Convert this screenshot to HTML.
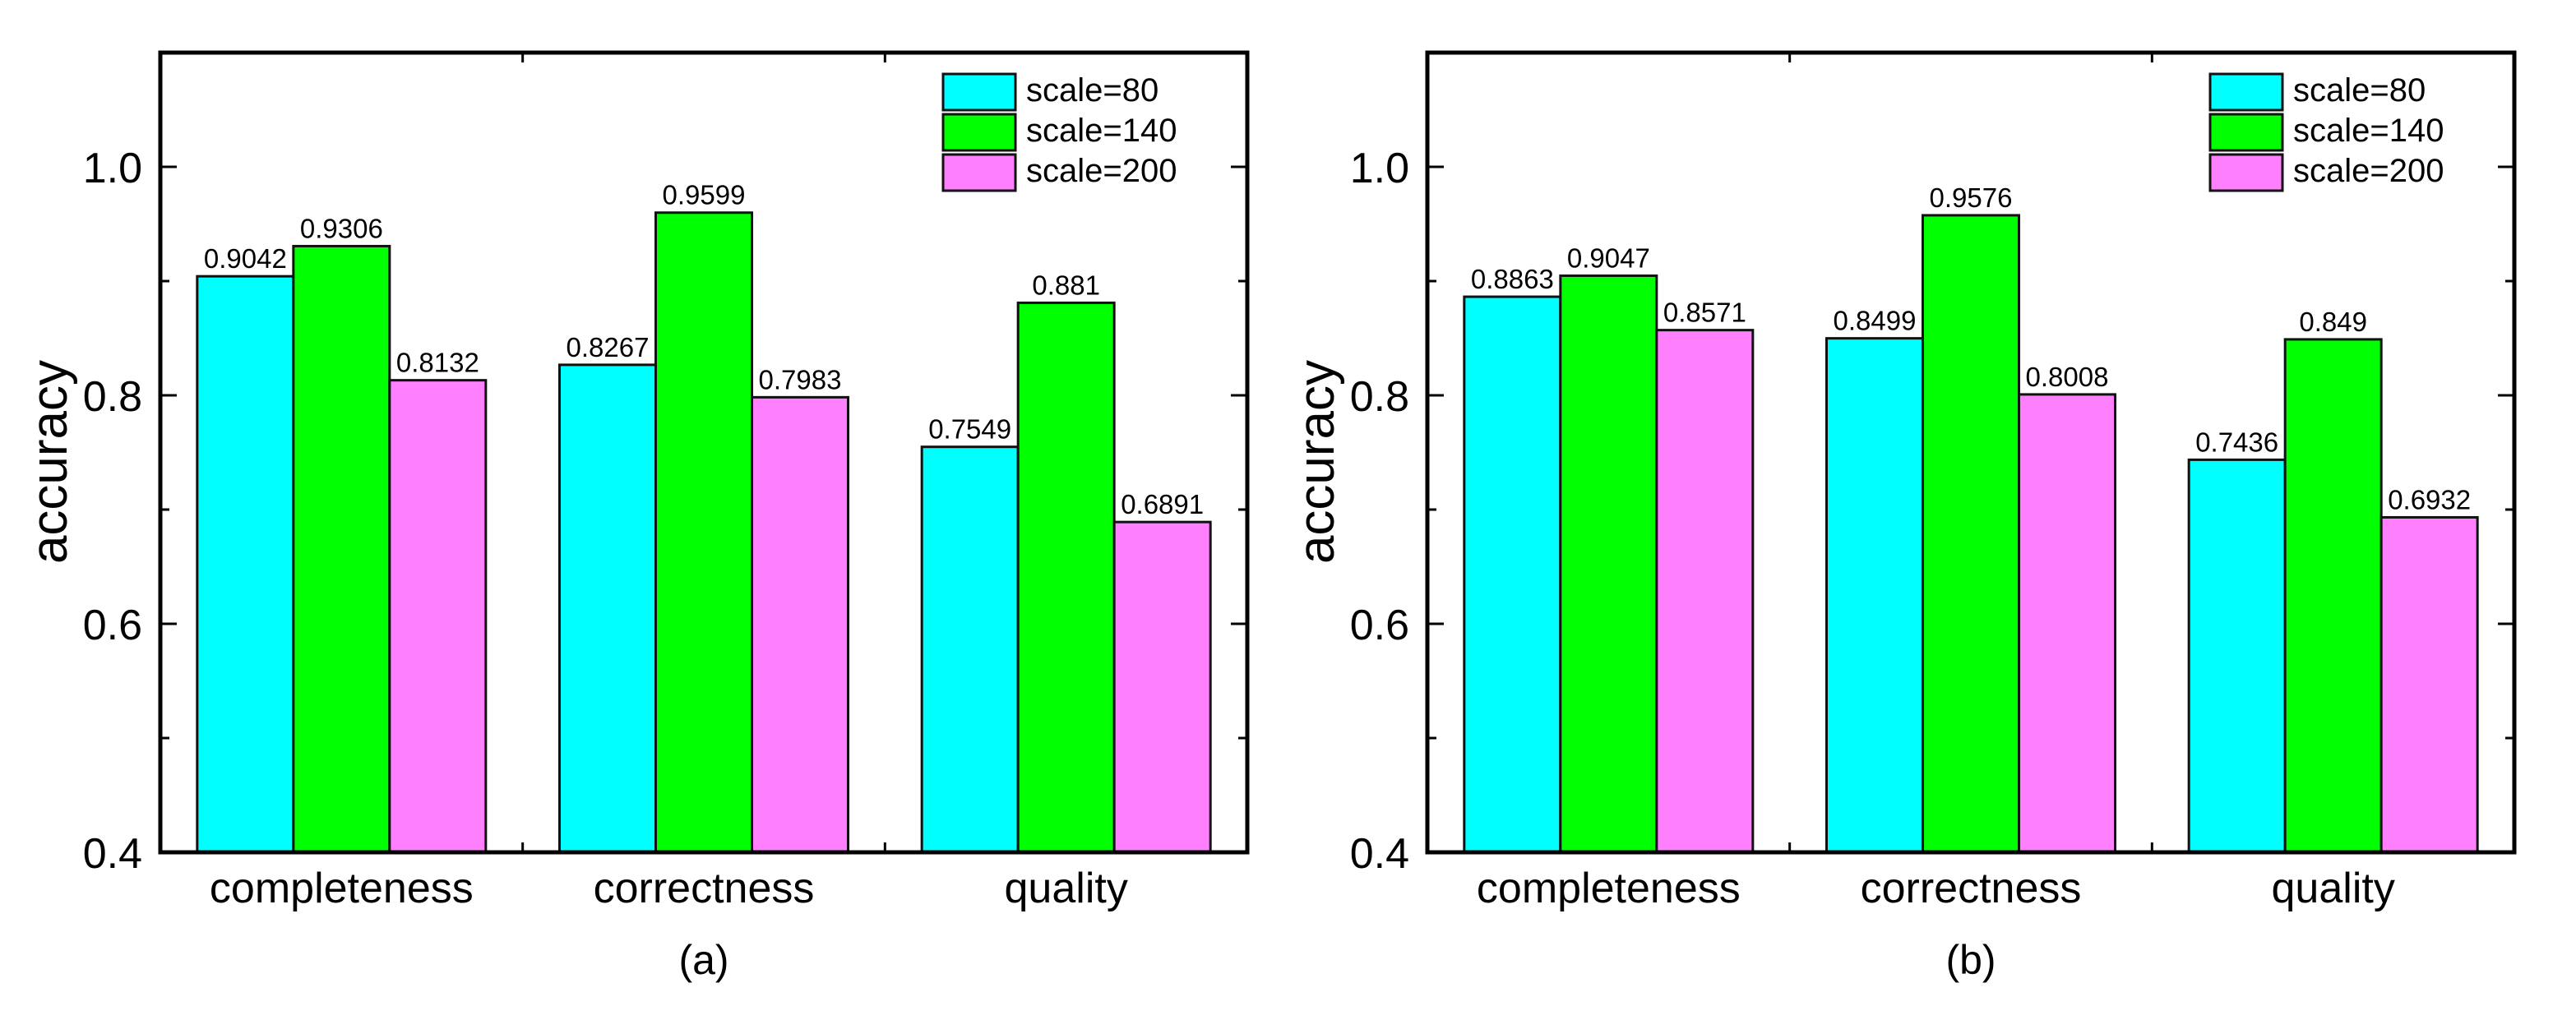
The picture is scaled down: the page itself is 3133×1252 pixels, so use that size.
<!DOCTYPE html>
<html><head><meta charset="utf-8"><style>
html,body{margin:0;padding:0;background:#fff;}
svg{display:block;font-family:"Liberation Sans",Arial,sans-serif;}
</style></head><body>
<svg id="chart" width="3133" height="1252" viewBox="0 0 3133 1252" xmlns="http://www.w3.org/2000/svg">
<rect x="0" y="0" width="3133" height="1252" fill="#fff"/>
</svg>
<script>
const categories = ["completeness", "correctness", "quality"];
const seriesNames = ["scale=80", "scale=140", "scale=200"];
const seriesColors = ["#00ffff", "#00ff00", "#ff80ff"];
const panelAValues80 = [0.9042, 0.8267, 0.7549];
const panelAValues140 = [0.9306, 0.9599, 0.881];
const panelAValues200 = [0.8132, 0.7983, 0.6891];
const panelBValues80 = [0.8863, 0.8499, 0.7436];
const panelBValues140 = [0.9047, 0.9576, 0.849];
const panelBValues200 = [0.8571, 0.8008, 0.6932];
const panelALabels80 = ["0.9042", "0.8267", "0.7549"];
const panelALabels140 = ["0.9306", "0.9599", "0.881"];
const panelALabels200 = ["0.8132", "0.7983", "0.6891"];
const panelBLabels80 = ["0.8863", "0.8499", "0.7436"];
const panelBLabels140 = ["0.9047", "0.9576", "0.849"];
const panelBLabels200 = ["0.8571", "0.8008", "0.6932"];
const yTicks = [0.4, 0.6, 0.8, 1.0];
const yTickLabels = ["0.4", "0.6", "0.8", "1.0"];
const yMinorTicks = [0.5, 0.7, 0.9];
const yMin = 0.4, yMax = 1.1;

const NS = "http://www.w3.org/2000/svg";
const svg = document.getElementById("chart");
function mk(tag, attrs, parent, text) {
  const e = document.createElementNS(NS, tag);
  for (const k in attrs) e.setAttribute(k, attrs[k]);
  if (text !== undefined) e.textContent = text;
  (parent || svg).appendChild(e);
  return e;
}

function drawPanel(left, tag, vals, labels, caption) {
  const top = 64, bottom = 1037, width = 1322, right = left + width;
  const y = v => bottom - (v - yMin) / (yMax - yMin) * (bottom - top);
  const groupW = width / categories.length;
  const barW = 117;
  const xBar = (ci, si) => left + ci * groupW + (groupW - 3 * barW) / 2 + si * barW;
  const g = mk("g", {});
  
  

  for (let si = 0; si < 3; si++) {
    for (let ci = 0; ci < categories.length; ci++) {
      const v = vals[si][ci];
      const r = mk("rect", {x: xBar(ci, si), y: y(v), width: barW, height: bottom - y(v), fill: seriesColors[si], stroke: "#111", "stroke-width": 3}, g);
      
      
      const t = mk("text", {x: xBar(ci, si) + barW / 2, y: y(v) - 10, "font-size": 33, "text-anchor": "middle", fill: "#000"}, g, labels[si][ci]);
      
      
    }
  }
  const fr = mk("rect", {x: left, y: top, width: width, height: bottom - top, fill: "none", stroke: "#000", "stroke-width": 5}, g);
  
  
  yTicks.forEach((v, i) => {
    mk("line", {x1: left, x2: left + 20, y1: y(v), y2: y(v), stroke: "#000", "stroke-width": 3}, g);
    mk("line", {x1: right, x2: right - 20, y1: y(v), y2: y(v), stroke: "#000", "stroke-width": 3}, g);
    const t = mk("text", {x: left - 22, y: y(v) + 19, "font-size": 52, "text-anchor": "end"}, g, yTickLabels[i]);
    
    
  });
  yMinorTicks.forEach(v => {
    mk("line", {x1: left, x2: left + 11, y1: y(v), y2: y(v), stroke: "#000", "stroke-width": 3}, g);
    mk("line", {x1: right, x2: right - 11, y1: y(v), y2: y(v), stroke: "#000", "stroke-width": 3}, g);
  });
  for (let k = 1; k < categories.length; k++) {
    const xx = left + k * groupW;
    mk("line", {x1: xx, x2: xx, y1: bottom, y2: bottom - 12, stroke: "#000", "stroke-width": 3}, g);
    mk("line", {x1: xx, x2: xx, y1: top, y2: top + 12, stroke: "#000", "stroke-width": 3}, g);
  }
  categories.forEach((c, ci) => {
    const t = mk("text", {x: left + (ci + 0.5) * groupW, y: 1098, "font-size": 52, "text-anchor": "middle"}, g, c);
    
    
  });
  const yt = mk("text", {x: 0, y: 0, "font-size": 62, "text-anchor": "middle", transform: "translate(" + (left - 114) + "," + 562 + ") rotate(-90)"}, g, "accuracy");
  
  
  const cap = mk("text", {x: left + width / 2, y: 1185, "font-size": 50, "text-anchor": "middle"}, g, caption);
  
  
  const lx = left + 952, ly = 90, lh = 44, lw = 88, pitch = 49;
  seriesNames.forEach((n, si) => {
    const r = mk("rect", {x: lx, y: ly + si * pitch, width: lw, height: lh, fill: seriesColors[si], stroke: "#111", "stroke-width": 3}, g);
    
    
    const t = mk("text", {x: lx + lw + 13, y: ly + si * pitch + 33, "font-size": 40}, g, n);
    
    
  });
}

drawPanel(195, "a", [panelAValues80, panelAValues140, panelAValues200], [panelALabels80, panelALabels140, panelALabels200], "(a)");
drawPanel(1736, "b", [panelBValues80, panelBValues140, panelBValues200], [panelBLabels80, panelBLabels140, panelBLabels200], "(b)");
</script>
</body></html>
